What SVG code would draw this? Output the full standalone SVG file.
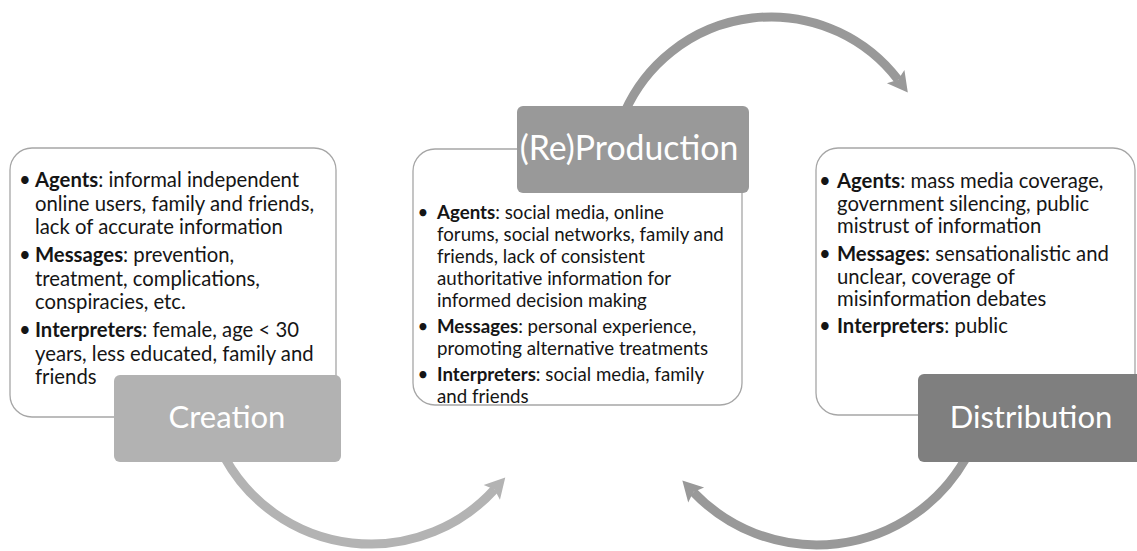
<svg xmlns="http://www.w3.org/2000/svg" width="1137" height="551" viewBox="0 0 1137 551">
<style>
.box{fill:#fff;stroke:#a6a6a6;stroke-width:1.3}
.t{font-family:Lato,"Liberation Sans",sans-serif;fill:#151515}
.c{font-size:20.3px}
.p{font-size:18.7px}
.d{font-size:20.3px}
.b{font-weight:bold}
.lab{font-family:Lato,"Liberation Sans",sans-serif;font-size:31px;fill:#fff;text-anchor:middle}
.arr{fill:none;stroke-width:9}
</style>
<defs>
<marker id="hl" markerUnits="userSpaceOnUse" viewBox="-2 -12 24 24" markerWidth="24" markerHeight="24" refX="4" refY="0" orient="auto"><path d="M0,-11 L20,0 L0,11 L4,0 Z" fill="#b3b3b3"/></marker>
<marker id="hd" markerUnits="userSpaceOnUse" viewBox="-2 -12 24 24" markerWidth="24" markerHeight="24" refX="4" refY="0" orient="auto"><path d="M0,-11 L20,0 L0,11 L4,0 Z" fill="#999"/></marker>
</defs>
<g id="connectors">
<path class="arr" stroke="#b3b3b3" marker-end="url(#hl)" d="M224.9,458 A167,167 0 0 0 494.5,489.4"/>
<path class="arr" stroke="#999" marker-end="url(#hd)" d="M624.8,111.9 A160,160 0 0 1 898.1,79.8"/>
<path class="arr" stroke="#999" marker-end="url(#hd)" d="M965.1,459.5 A171,171 0 0 1 693.4,492.1"/>
</g>
<g id="creation">
<rect class="box" x="10" y="148" width="326" height="269" rx="22"/>
<rect x="114" y="375" width="227" height="87" rx="6" fill="#b2b2b2"/>
<text class="lab" x="227" y="428">Creation</text>
<g class="t c">
<text x="25" y="187" text-anchor="middle">•</text>
<text x="35" y="187"><tspan class="b">Agents</tspan>: informal independent</text>
<text x="35" y="210.5">online users, family and friends,</text>
<text x="35" y="234">lack of accurate information</text>
<text x="25" y="262" text-anchor="middle">•</text>
<text x="35" y="262"><tspan class="b">Messages</tspan>: prevention,</text>
<text x="35" y="285.5">treatment, complications,</text>
<text x="35" y="309">conspiracies, etc.</text>
<text x="25" y="337" text-anchor="middle">•</text>
<text x="35" y="337"><tspan class="b">Interpreters</tspan>: female, age &lt; 30</text>
<text x="35" y="360.5">years, less educated, family and</text>
<text x="35" y="384">friends</text>
</g>
</g>
<g id="reproduction">
<rect class="box" x="413" y="149" width="329" height="256" rx="22"/>
<rect x="517" y="106" width="232" height="87" rx="6" fill="#999"/>
<text class="lab" x="629" y="160" style="font-size:33.8px">(Re)Production</text>
<g class="t p">
<text x="423" y="219" text-anchor="middle">•</text>
<text x="437" y="219"><tspan class="b">Agents</tspan>: social media, online</text>
<text x="437" y="241">forums, social networks, family and</text>
<text x="437" y="263">friends, lack of consistent</text>
<text x="437" y="285">authoritative information for</text>
<text x="437" y="307">informed decision making</text>
<text x="423" y="333" text-anchor="middle">•</text>
<text x="437" y="333"><tspan class="b">Messages</tspan>: personal experience,</text>
<text x="437" y="355">promoting alternative treatments</text>
<text x="423" y="381" text-anchor="middle">•</text>
<text x="437" y="381"><tspan class="b">Interpreters</tspan>: social media, family</text>
<text x="437" y="403">and friends</text>
</g>
</g>
<g id="distribution">
<rect class="box" x="816" y="148" width="319" height="267" rx="22"/>
<rect x="918" y="374" width="230" height="88" rx="6" fill="#7f7f7f"/>
<text class="lab" x="1031" y="428">Distribution</text>
<g class="t d">
<text x="825" y="188" text-anchor="middle">•</text>
<text x="837" y="188"><tspan class="b">Agents</tspan>: mass media coverage,</text>
<text x="837" y="210.5">government silencing, public</text>
<text x="837" y="233">mistrust of information</text>
<text x="825" y="261" text-anchor="middle">•</text>
<text x="837" y="261"><tspan class="b">Messages</tspan>: sensationalistic and</text>
<text x="837" y="283.5">unclear, coverage of</text>
<text x="837" y="306">misinformation debates</text>
<text x="825" y="333" text-anchor="middle">•</text>
<text x="837" y="333"><tspan class="b">Interpreters</tspan>: public</text>
</g>
</g>
</svg>
